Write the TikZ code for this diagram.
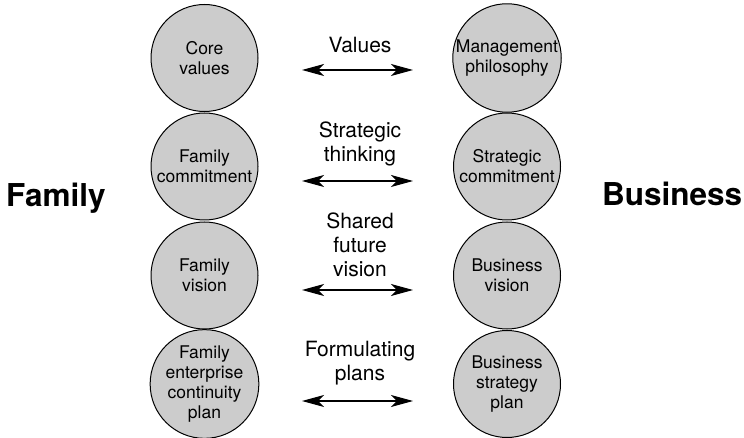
\documentclass[tikz,border=0pt]{standalone}
\usepackage{fontspec}
\setmainfont{TeX Gyre Heros}
\usetikzlibrary{arrows.meta}
\definecolor{cfill}{RGB}{204,204,204}
\begin{document}
\begin{tikzpicture}[x=1pt,y=-1pt,
  ball/.style={circle,draw=black,line width=1pt,fill=cfill,minimum size=107pt,inner sep=0pt,align=center,font=\fontsize{17.5}{20}\selectfont},
  lbl/.style={align=center,inner sep=0pt,anchor=north,font=\fontsize{21}{24}\selectfont},
  side/.style={inner sep=0pt,anchor=base west,font=\fontsize{31.5}{36}\selectfont\bfseries},
  dbl/.style={line width=1.2pt,{Stealth[length=22pt,width=12pt,inset=6pt]}-{Stealth[length=22pt,width=12pt,inset=6pt]}}]
\useasboundingbox (0,0) rectangle (744,438);
% left column
\node[ball] (L1) at (204.5,58) {Core\\values};
\node[ball] (L2) at (204.5,166.5) {Family\\commitment};
\node[ball] (L3) at (204.5,275.5) {Family\\vision};
\node[ball] (L4) at (204.5,384) {Family\\enterprise\\continuity\\plan};
% right column
\node[ball] (R1) at (507,58) {Management\\philosophy};
\node[ball] (R2) at (507,166.5) {Strategic\\commitment};
\node[ball] (R3) at (507,275.5) {Business\\vision};
\node[ball] (R4) at (507,384) {Business\\strategy\\plan};
% side titles
\node[side] (fam) at (6,207) {Family};
\node[side] (bus) at (602,206) {Business};
% middle labels
\node[lbl] (t1) at (360,36.5) {Values};
\node[lbl] (t2) at (360,121.5) {Strategic\\thinking};
\node[lbl] (t3) at (360,212.5) {Shared\\future\\vision};
\node[lbl] (t4) at (360,341) {Formulating\\plans};
% arrows
\coordinate (a1l) at (302,70);  \coordinate (a1r) at (413,70);
\coordinate (a2l) at (302,181); \coordinate (a2r) at (413,181);
\coordinate (a3l) at (302,290); \coordinate (a3r) at (413,290);
\coordinate (a4l) at (302,401); \coordinate (a4r) at (413,401);
\draw[dbl] (a1l) -- (a1r);
\draw[dbl] (a2l) -- (a2r);
\draw[dbl] (a3l) -- (a3r);
\draw[dbl] (a4l) -- (a4r);
\end{tikzpicture}
\end{document}
